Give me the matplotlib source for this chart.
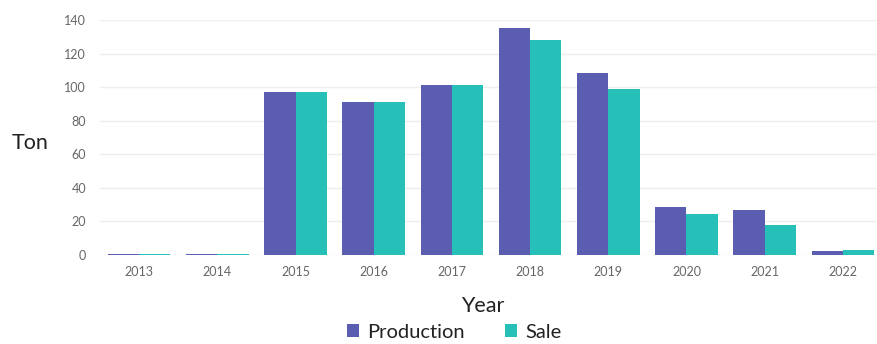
import numpy as np
import matplotlib.pyplot as plt

years = ['2013', '2014', '2015', '2016', '2017', '2018', '2019', '2020', '2021', '2022']
production = [0.6, 0.6, 97, 91, 101.5, 135, 108.5, 28.5, 26.5, 2.3]
sale = [0.6, 0.6, 97, 91, 101.5, 128, 99, 24.3, 18, 2.8]

c_prod = '#5b5eb0'
c_sale = '#26c0b8'

plt.rcParams['font.family'] = ['Lato', 'DejaVu Sans']

fig = plt.figure(figsize=(8.78, 3.44), dpi=100)
ax = fig.add_axes([0.114, 0.259, 0.886, 0.683])

x = np.arange(len(years))
w = 0.4
ax.bar(x - w/2, production, w, color=c_prod, label='Production', zorder=3)
ax.bar(x + w/2, sale, w, color=c_sale, label='Sale', zorder=3)

ax.set_ylim(0, 140)
ax.set_xlim(-0.5, 9.45)
ax.set_yticks(range(0, 141, 20))
ax.set_xticks(x)
ax.set_xticklabels(years)
ax.tick_params(length=0, labelsize=9, colors='#666666', pad=8)
ax.tick_params(axis='y', pad=10)
ax.grid(axis='y', color='#eeeeee', linewidth=1, zorder=0)
for s in ax.spines.values():
    s.set_visible(False)

fig.text(0.034, 0.585, 'Ton', fontsize=15.5, ha='center', va='center', color='#222222')
fig.text(0.55, 0.11, 'Year', fontsize=15.5, ha='center', va='center', color='#222222')

ax.legend(loc='center', bbox_to_anchor=(0.455, -0.33), ncol=2, frameon=False,
          fontsize=14.5, handlelength=0.6, handleheight=0.6, handletextpad=0.4,
          columnspacing=2.0, labelcolor='#222222', borderpad=0)

fig.savefig('out.png', dpi=100)
